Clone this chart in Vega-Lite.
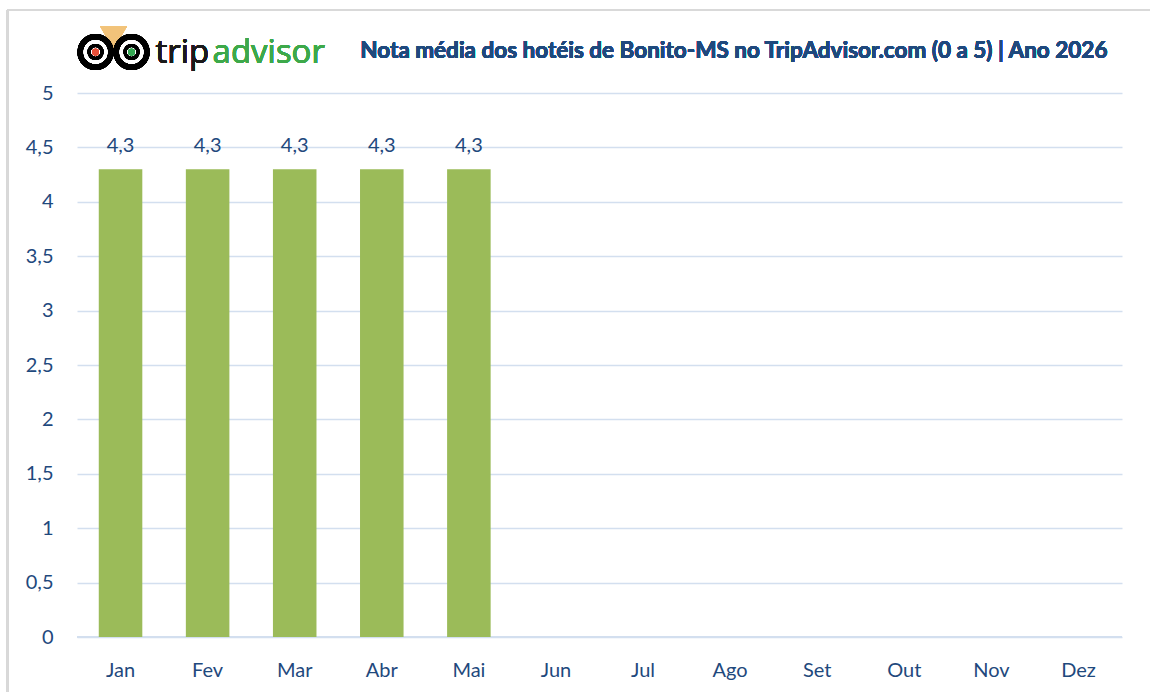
{
  "$schema": "https://vega.github.io/schema/vega-lite/v6.json",
  "width": 1045,
  "height": 544,
  "autosize": {"type": "none"},
  "padding": {"left": 77, "top": 93, "right": 28, "bottom": 55},
  "background": "white",
  "config": {
    "view": {"stroke": null},
    "font": "Lato",
    "axis": {"labelFont": "Lato", "labelFontSize": 20, "labelColor": "#1F497D", "ticks": false, "domain": false, "title": null}
  },
  "data": {
    "values": [
      {"mes": "Jan", "nota": 4.3},
      {"mes": "Fev", "nota": 4.3},
      {"mes": "Mar", "nota": 4.3},
      {"mes": "Abr", "nota": 4.3},
      {"mes": "Mai", "nota": 4.3},
      {"mes": "Jun", "nota": null},
      {"mes": "Jul", "nota": null},
      {"mes": "Ago", "nota": null},
      {"mes": "Set", "nota": null},
      {"mes": "Out", "nota": null},
      {"mes": "Nov", "nota": null},
      {"mes": "Dez", "nota": null}
    ]
  },
  "encoding": {
    "x": {
      "field": "mes", "type": "nominal", "sort": null,
      "scale": {"domain": ["Jan","Fev","Mar","Abr","Mai","Jun","Jul","Ago","Set","Out","Nov","Dez"], "paddingInner": 0.5, "paddingOuter": 0.25},
      "axis": {"labelAngle": 0, "labelPadding": 23, "grid": false}
    }
  },
  "layer": [
    {
      "mark": {"type": "rule", "color": "#D9D9D9", "strokeWidth": 2, "xOffset": -113, "yOffset": -83, "y2Offset": 55},
      "encoding": {"x": {"datum": "Jan"}, "y": {"datum": 5, "type": "quantitative"}, "y2": {"datum": 0}}
    },
    {
      "mark": {"type": "rule", "color": "#D9D9D9", "strokeWidth": 2, "xOffset": -113, "x2Offset": 72, "yOffset": -83},
      "encoding": {"x": {"datum": "Jan"}, "x2": {"datum": "Dez"}, "y": {"datum": 5, "type": "quantitative"}}
    },
    {
      "mark": {"type": "rule", "color": "#D3DFEF", "strokeWidth": 1.5},
      "encoding": {"x": null, "y": {"datum": 0, "type": "quantitative"}}
    },
    {
      "mark": {"type": "bar", "color": "#9BBB59"},
      "encoding": {
        "y": {
          "field": "nota", "type": "quantitative",
          "scale": {"domain": [0, 5], "nice": false},
          "axis": {"values": [0,0.5,1,1.5,2,2.5,3,3.5,4,4.5,5], "format": ".1~f", "labelExpr": "replace(datum.label, '.', ',')", "labelPadding": 24, "grid": true, "gridColor": "#D3DFEF", "gridWidth": 1.5}
        }
      }
    },
    {
      "transform": [{"filter": "datum.nota != null"}, {"calculate": "replace(format(datum.nota, '.1f'), '.', ',')", "as": "lbl"}],
      "mark": {"type": "text", "baseline": "alphabetic", "dy": -17, "fontSize": 20, "color": "#1F497D", "font": "Lato"},
      "encoding": {
        "y": {"field": "nota", "type": "quantitative"},
        "text": {"field": "lbl", "type": "nominal"}
      }
    },
    {
      "mark": {"type": "text", "text": "Nota média dos hotéis de Bonito-MS no TripAdvisor.com (0 a 5) | Ano 2026", "align": "right", "baseline": "alphabetic", "font": "Lato", "fontSize": 22.5, "fontWeight": "bold", "color": "#1F497D", "xOffset": 29, "yOffset": -35},
      "encoding": {"x": {"datum": "Dez"}, "y": {"datum": 5, "type": "quantitative"}}
    },
    {
      "mark": {"type": "point", "shape": "triangle-down", "filled": true, "color": "#F2C37A", "size": 700, "xOffset": -7, "yOffset": -55, "opacity": 1},
      "encoding": {"x": {"datum": "Jan"}, "y": {"datum": 5, "type": "quantitative"}}
    },
    {
      "mark": {"type": "point", "shape": "circle", "filled": true, "color": "black", "size": 1300, "xOffset": -25, "yOffset": -41, "opacity": 1},
      "encoding": {"x": {"datum": "Jan"}, "y": {"datum": 5, "type": "quantitative"}}
    },
    {
      "mark": {"type": "point", "shape": "circle", "filled": true, "color": "black", "size": 1300, "xOffset": 11, "yOffset": -41, "opacity": 1},
      "encoding": {"x": {"datum": "Jan"}, "y": {"datum": 5, "type": "quantitative"}}
    },
    {
      "mark": {"type": "point", "shape": "circle", "filled": true, "color": "white", "size": 560, "xOffset": -25, "yOffset": -41, "opacity": 1},
      "encoding": {"x": {"datum": "Jan"}, "y": {"datum": 5, "type": "quantitative"}}
    },
    {
      "mark": {"type": "point", "shape": "circle", "filled": true, "color": "white", "size": 560, "xOffset": 11, "yOffset": -41, "opacity": 1},
      "encoding": {"x": {"datum": "Jan"}, "y": {"datum": 5, "type": "quantitative"}}
    },
    {
      "mark": {"type": "point", "shape": "circle", "filled": false, "color": "black", "strokeWidth": 3, "size": 170, "xOffset": -25, "yOffset": -41, "opacity": 1},
      "encoding": {"x": {"datum": "Jan"}, "y": {"datum": 5, "type": "quantitative"}}
    },
    {
      "mark": {"type": "point", "shape": "circle", "filled": false, "color": "black", "strokeWidth": 3, "size": 170, "xOffset": 11, "yOffset": -41, "opacity": 1},
      "encoding": {"x": {"datum": "Jan"}, "y": {"datum": 5, "type": "quantitative"}}
    },
    {
      "mark": {"type": "point", "shape": "circle", "filled": true, "color": "#E8503A", "size": 45, "xOffset": -25, "yOffset": -41, "opacity": 1},
      "encoding": {"x": {"datum": "Jan"}, "y": {"datum": 5, "type": "quantitative"}}
    },
    {
      "mark": {"type": "point", "shape": "circle", "filled": true, "color": "#34A853", "size": 45, "xOffset": 11, "yOffset": -41, "opacity": 1},
      "encoding": {"x": {"datum": "Jan"}, "y": {"datum": 5, "type": "quantitative"}}
    },
    {
      "mark": {"type": "text", "text": "trip", "align": "left", "baseline": "alphabetic", "font": "Open Sans", "fontSize": 33, "color": "#1A1A1A", "xOffset": 35, "yOffset": -30},
      "encoding": {"x": {"datum": "Jan"}, "y": {"datum": 5, "type": "quantitative"}}
    },
    {
      "mark": {"type": "text", "text": "advisor", "align": "left", "baseline": "alphabetic", "font": "Open Sans", "fontSize": 33, "color": "#3DA94A", "xOffset": 92, "yOffset": -30},
      "encoding": {"x": {"datum": "Jan"}, "y": {"datum": 5, "type": "quantitative"}}
    }
  ]
}
